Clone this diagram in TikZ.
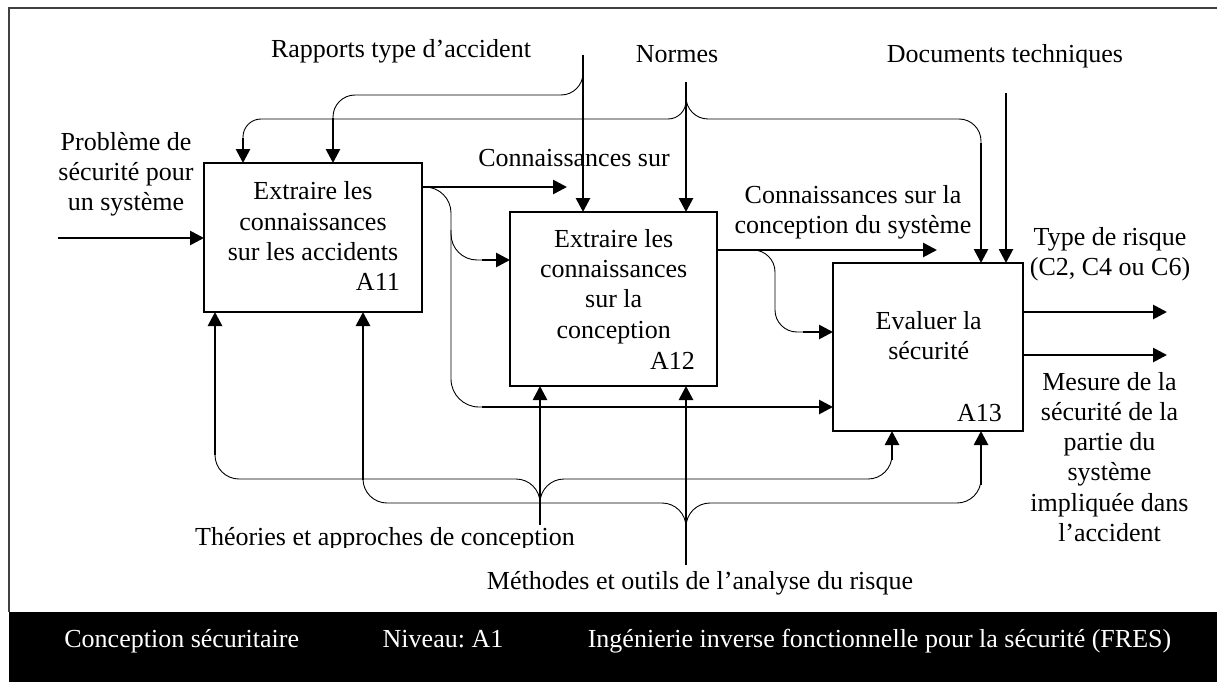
\documentclass[tikz,border=0pt]{standalone}
\usepackage{fontspec}
\setmainfont{Liberation Serif}
\usetikzlibrary{arrows.meta}
\frenchspacing
\begin{document}
\begin{tikzpicture}[x=1pt,y=-1pt,
  font=\fontsize{26pt}{30.3pt}\selectfont,
  box/.style={draw, line width=2pt, inner sep=0pt, outer sep=0pt},
  flow/.style={line width=2.7pt, -{Triangle[length=14pt,width=14pt]}},
  tie/.style={line width=0.9pt, rounded corners=#1},
  tie/.default=22pt,
  lbl/.style={align=center, inner sep=0pt},
  txt/.style={anchor=base, inner sep=0pt},
  num/.style={anchor=base east, inner sep=0pt}]
\useasboundingbox (0,0) rectangle (1217,682);

% frame and title bar
\draw[line width=1.5pt, black!75] (1217,8) -- (9,8) -- (9,612);
\fill[black] (9,612) rectangle (1217,682);
\node[txt, text=white] (b1) at (181.7,647) {Conception sécuritaire};
\node[txt, text=white] (b2) at (443,647) {Niveau: A1};
\node[txt, text=white] (b3) at (879.5,647) {Ingénierie inverse fonctionnelle pour la sécurité (FRES)};

% activity boxes
\node[box, minimum width=218pt, minimum height=149pt] (A11) at (313,237.5) {};
\node[box, minimum width=207pt, minimum height=174pt] (A12) at (613.5,299) {};
\node[box, minimum width=190pt, minimum height=168pt] (A13) at (928,347) {};
\node[lbl] (t11) at (313,221.4) {Extraire les\\connaissances\\sur les accidents};
\node[num] (n11) at (400,290) {A11};
\node[lbl] (t12) at (613.7,286.3) {Extraire les\\connaissances\\sur la\\conception};
\node[num] (n12) at (695,369) {A12};
\node[lbl] (t13) at (928.7,335.3) {Evaluer la\\sécurité};
\node[num] (n13) at (1002,421) {A13};

% labels
\node[lbl] (lp) at (126,174.2) {Problème de\\sécurité pour\\un système};
\node[txt] (lr) at (401,58) {Rapports type d’accident};
\node[txt] (ln) at (677,62.5) {Normes};
\node[txt] (ld) at (1005,62.5) {Documents techniques};
\node[txt] (lc1) at (574,166) {Connaissances sur};
\node[lbl] (lc2) at (853,212.5) {Connaissances sur la\\conception du système};
\node[lbl] (lt) at (1110,253.9) {Type de risque\\(C2, C4 ou C6)};
\node[lbl] (lm) at (1109.5,456.9) {Mesure de la\\sécurité de la\\partie du\\système\\impliquée dans\\l’accident};
\begin{scope}
  \clip (0,0) rectangle (1217,547);
  \node[txt] (lth) at (385,545) {Théories et approches de conception};
\end{scope}
\node[txt] (lme) at (700,589) {Méthodes et outils de l’analyse du risque};

% input
\coordinate (pin) at (58,238);
\draw[flow] (pin) -- (A11.west |- pin);

% outputs of A11
\coordinate (k1) at (567,187);
\draw[flow] (A11.east |- k1) -- (k1);
\draw[tie=26pt] (A11.east |- k1) -- (451,187) -- (451,260) -- (482,260);
\draw[tie=28pt] (451,230) -- (451,407) -- (482,407);
\coordinate (j12) at (482,260);
\coordinate (j13) at (482,407);
\draw[flow] (j12) -- (A12.west |- j12);
\draw[flow] (j13) -- (A13.west |- j13);

% outputs of A12
\coordinate (k2) at (937,250);
\draw[flow] (A12.east |- k2) -- (k2);
\draw[tie=22pt] (A12.east |- k2) -- (775,250) -- (775,332) -- (803,332);
\coordinate (j23) at (803,332);
\draw[flow] (j23) -- (A13.west |- j23);

% outputs of A13
\coordinate (o1) at (1167,312);
\coordinate (o2) at (1167,355);
\draw[flow] (A13.east |- o1) -- (o1);
\draw[flow] (A13.east |- o2) -- (o2);

% controls: accident reports
\coordinate (cR) at (583,55);
\draw[flow] (cR) -- (A12.north -| cR);
\draw[tie=22pt] (583,70) -- (583,95) -- (333,95) -- (333,125);
\coordinate (cR1) at (333,118);
\draw[flow] (cR1) -- (A11.north -| cR1);

% controls: standards
\coordinate (cN) at (686,82);
\draw[flow] (cN) -- (A12.north -| cN);
\draw[tie=18pt] (686,95) -- (686,119) -- (243,119) -- (243,150);
\draw[tie] (686,95) -- (686,119) -- (981,119) -- (981,150);
\coordinate (cN1) at (243,138);
\coordinate (cN3) at (981,143);
\draw[flow] (cN1) -- (A11.north -| cN1);
\draw[flow] (cN3) -- (A13.north -| cN3);

% controls: technical documents
\coordinate (cD) at (1006,93);
\draw[flow] (cD) -- (A13.north -| cD);

% mechanisms: design theories
\coordinate (mT) at (540,525);
\draw[flow] (mT) -- (A12.south -| mT);
\draw[tie=24pt] (540,505) -- (540,479) -- (215,479) -- (215,445);
\draw[tie=24pt] (540,505) -- (540,479) -- (892,479) -- (892,450);
\coordinate (mT1) at (215,455);
\coordinate (mT3) at (892,460);
\draw[flow] (mT1) -- (A11.south -| mT1);
\draw[flow] (mT3) -- (A13.south -| mT3);

% mechanisms: risk analysis methods
\coordinate (mM) at (686,565);
\draw[flow] (mM) -- (A12.south -| mM);
\draw[tie=24pt] (686,525) -- (686,503) -- (363,503) -- (363,470);
\draw[tie=24pt] (686,525) -- (686,503) -- (981,503) -- (981,475);
\coordinate (mM1) at (363,480);
\coordinate (mM3) at (981,485);
\draw[flow] (mM1) -- (A11.south -| mM1);
\draw[flow] (mM3) -- (A13.south -| mM3);
\end{tikzpicture}
\end{document}
